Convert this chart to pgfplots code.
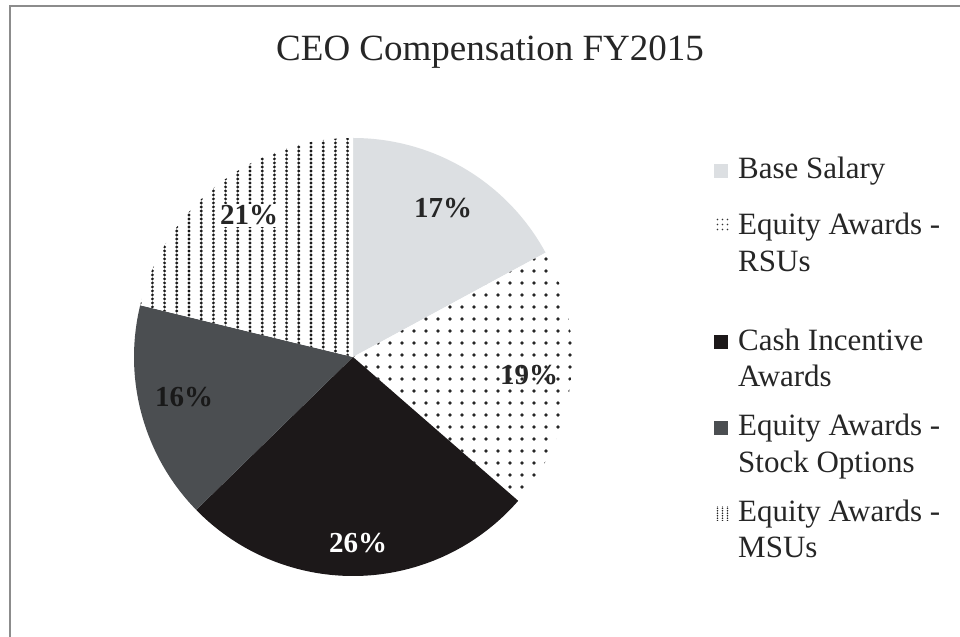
\documentclass[border=0pt]{standalone}
\usepackage{pgfplots}
\pgfplotsset{compat=1.18}
\usepackage{pgfplotstable}
\usepackage{fontspec}
\setmainfont{Liberation Serif}
\usetikzlibrary{patterns}
\definecolor{basec}{HTML}{DCDFE2}
\definecolor{cashc}{HTML}{1C1819}
\definecolor{stockc}{HTML}{4B4E51}
\definecolor{txt}{HTML}{262626}
\definecolor{framec}{HTML}{8C8C8C}
\pgfdeclarepatternformonly{rsudots}{\pgfqpoint{-1bp}{-1bp}}{\pgfqpoint{13bp}{13bp}}{\pgfqpoint{12bp}{12bp}}{\pgfpathcircle{\pgfqpoint{6bp}{6bp}}{1.8bp}\pgfusepath{fill}}
\pgfdeclarepatternformonly{msudots}{\pgfqpoint{-1bp}{-1bp}}{\pgfqpoint{13bp}{5bp}}{\pgfqpoint{12.2bp}{4bp}}{\pgfpathcircle{\pgfqpoint{6bp}{2bp}}{1.6bp}\pgfusepath{fill}}
\pgfdeclarepatternformonly{rsusmall}{\pgfqpoint{-1bp}{-1bp}}{\pgfqpoint{6bp}{6bp}}{\pgfqpoint{5bp}{5bp}}{\pgfpathcircle{\pgfqpoint{2.5bp}{2.5bp}}{0.9bp}\pgfusepath{fill}}
\pgfdeclarepatternformonly{msusmall}{\pgfqpoint{-1bp}{-1bp}}{\pgfqpoint{6bp}{3bp}}{\pgfqpoint{5bp}{2.5bp}}{\pgfpathcircle{\pgfqpoint{2.5bp}{1.25bp}}{0.9bp}\pgfusepath{fill}}

\pgfplotstableread{
label value
Base 17.1
RSU 19.3
Cash 26.3
Stock 16.1
MSU 21.2
}\piedata

\begin{document}
\begin{tikzpicture}
\useasboundingbox (0,0) rectangle (960bp,637bp);
\fill[white] (0,0) rectangle (960bp,637bp);
\draw[framec, line width=1.6bp] (10bp,0bp) -- (10bp,631bp) -- (960bp,631bp);
% cumulative angles, clockwise from 12 o'clock
\pgfplotstablegetelem{0}{value}\of\piedata
\pgfmathsetmacro\angA{90-3.6*\pgfplotsretval}
\pgfplotstablegetelem{1}{value}\of\piedata
\pgfmathsetmacro\angB{\angA-3.6*\pgfplotsretval}
\pgfplotstablegetelem{2}{value}\of\piedata
\pgfmathsetmacro\angC{\angB-3.6*\pgfplotsretval}
\pgfplotstablegetelem{3}{value}\of\piedata
\pgfmathsetmacro\angD{\angC-3.6*\pgfplotsretval}
\pgfplotstablegetelem{4}{value}\of\piedata
\pgfmathsetmacro\angE{\angD-3.6*\pgfplotsretval}
\begin{axis}[at={(353bp,280bp)}, anchor=center,
  width=438bp, height=438bp, scale only axis,
  xmin=-1, xmax=1, ymin=-1, ymax=1,
  axis lines=none, clip=false]
\fill[basec] (axis cs:0,0) -- (axis cs:{cos(90)},{sin(90)}) arc[start angle=90, end angle=\angA, radius=219bp] -- cycle;
\fill[white] (axis cs:0,0) -- (axis cs:{cos(\angA)},{sin(\angA)}) arc[start angle=\angA, end angle=\angB, radius=219bp] -- cycle;
\fill[pattern=rsudots, pattern color=black!85] (axis cs:0,0) -- (axis cs:{cos(\angA)},{sin(\angA)}) arc[start angle=\angA, end angle=\angB, radius=219bp] -- cycle;
\fill[cashc] (axis cs:0,0) -- (axis cs:{cos(\angB)},{sin(\angB)}) arc[start angle=\angB, end angle=\angC, radius=219bp] -- cycle;
\fill[stockc] (axis cs:0,0) -- (axis cs:{cos(\angC)},{sin(\angC)}) arc[start angle=\angC, end angle=\angD, radius=219bp] -- cycle;
\fill[white] (axis cs:0,0) -- (axis cs:{cos(\angD)},{sin(\angD)}) arc[start angle=\angD, end angle=\angE, radius=219bp] -- cycle;
\fill[pattern=msudots, pattern color=black!90] (axis cs:0,0) -- (axis cs:{cos(\angD)},{sin(\angD)}) arc[start angle=\angD, end angle=\angE, radius=219bp] -- cycle;
\end{axis}
% title
\node[anchor=base, txt, font=\fontsize{37bp}{44bp}\selectfont] at (490bp,576bp) {CEO Compensation FY2015};
% slice labels
\begin{scope}[every node/.style={font=\fontsize{29bp}{34bp}\selectfont\bfseries, inner sep=1bp}]
\node[anchor=base, txt] at (443bp,419bp) {17\%};
\node[anchor=base, txt] at (529bp,252bp) {19\%};
\node[anchor=base, white] at (358bp,84bp) {26\%};
\node[anchor=base, black!90] at (184bp,230bp) {16\%};
\node[anchor=base, txt, fill=white, inner sep=2bp] at (249bp,412bp) {21\%};
\end{scope}
% legend
\fill[basec] (714bp,459bp) rectangle (728bp,473bp);
\fill[pattern=rsusmall, pattern color=black!80] (714bp,404bp) rectangle (729bp,418bp);
\fill[cashc] (714bp,288bp) rectangle (728bp,302bp);
\fill[stockc] (714bp,202bp) rectangle (728bp,216bp);
\fill[pattern=msusmall, pattern color=black!85] (714bp,116bp) rectangle (729bp,130bp);
\begin{scope}[every node/.style={anchor=base west, txt, font=\fontsize{31bp}{37bp}\selectfont, inner sep=0pt}]
\node at (738bp,458bp) {Base Salary};
\node at (738bp,402bp) {Equity Awards -};
\node at (738bp,365bp) {RSUs};
\node at (738bp,286bp) {Cash Incentive};
\node at (738bp,250bp) {Awards};
\node at (738bp,201bp) {Equity Awards -};
\node at (738bp,164bp) {Stock Options};
\node at (738bp,115bp) {Equity Awards -};
\node at (738bp,79bp) {MSUs};
\end{scope}
\end{tikzpicture}
\end{document}
